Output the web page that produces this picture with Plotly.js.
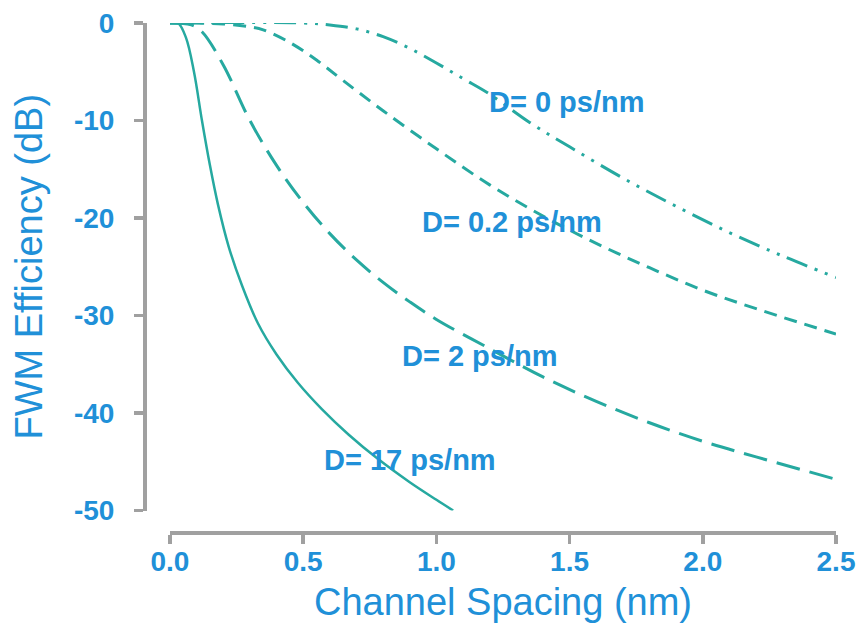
<!DOCTYPE html>
<html>
<head>
<meta charset="utf-8">
<script src="https://cdn.plot.ly/plotly-3.0.1.min.js"></script>
<style>html,body{margin:0;padding:0;background:#fff;}#chart{width:859px;height:625px;}</style>
</head>
<body>
<div id="chart"></div>
<script>
// ---- data ----
const seriesNames = ["D= 17 ps/nm", "D= 2 ps/nm", "D= 0.2 ps/nm", "D= 0 ps/nm"];

const d17_x = [0, 0.03, 0.06, 0.09, 0.12, 0.15, 0.18, 0.22, 0.27, 0.33, 0.40, 0.48, 0.57, 0.67, 0.78, 0.90, 1.0, 1.063];
const d17_y = [0, 0, -1.5, -5.0, -10.0, -14.6, -18.6, -22.9, -26.9, -30.8, -34.0, -36.9, -39.6, -42.2, -44.7, -47.1, -48.9, -50.0];

const d2_x = [0, 0.08, 0.12, 0.2, 0.3, 0.4, 0.5, 0.6, 0.7, 0.8, 0.9, 1.0, 1.2, 1.4, 1.6, 1.8, 2.0, 2.2, 2.5];
const d2_y = [0, -0.2, -0.9, -4.3, -10.0, -14.6, -18.4, -21.6, -24.3, -26.6, -28.6, -30.4, -33.4, -36.3, -38.8, -41.0, -42.9, -44.5, -46.8];

const d02_x = [0, 0.2, 0.3, 0.35, 0.45, 0.55, 0.65, 0.8, 1.0, 1.2, 1.4, 1.6, 1.8, 2.0, 2.2, 2.5];
const d02_y = [0, -0.1, -0.4, -0.7, -2.0, -3.8, -5.9, -9.0, -12.9, -16.6, -19.8, -22.6, -25.1, -27.4, -29.3, -31.9];

const d0_x = [0, 0.5, 0.6, 0.7, 0.8, 0.9, 1.0, 1.1, 1.2, 1.35, 1.5, 1.7, 1.9, 2.1, 2.3, 2.5];
const d0_y = [0, 0, -0.2, -0.6, -1.4, -2.6, -4.1, -5.7, -7.3, -10.2, -12.7, -15.9, -18.8, -21.5, -23.9, -26.1];

const xTickVals = [0, 0.5, 1.0, 1.5, 2.0, 2.5];
const xTickText = ["0.0", "0.5", "1.0", "1.5", "2.0", "2.5"];
const yTickVals = [0, -10, -20, -30, -40, -50];
const yTickText = ["0", "-10", "-20", "-30", "-40", "-50"];

const labelX = [0.902, 1.165, 1.285, 1.491];
const labelY = [-44.8, -34.2, -20.4, -8.1];

// ---- styling ----
const lineColor = "#26A9A0";
const textColor = "#2090D8";
const axisGray = "#A0A0A0";
const font = "Liberation Sans, Arial, sans-serif";

const traces = [
  {x: d17_x, y: d17_y, name: seriesNames[0], mode: "lines", line: {color: lineColor, width: 2.5, shape: "spline", smoothing: 1}},
  {x: d2_x, y: d2_y, name: seriesNames[1], mode: "lines", line: {color: lineColor, width: 3, dash: "24px,10px", shape: "spline", smoothing: 1}},
  {x: d02_x, y: d02_y, name: seriesNames[2], mode: "lines", line: {color: lineColor, width: 3, dash: "13px,8px", shape: "spline", smoothing: 1}},
  {x: d0_x, y: d0_y, name: seriesNames[3], mode: "lines", line: {color: lineColor, width: 3, dash: "22px,8px,3px,8px,3px,8px", shape: "spline", smoothing: 1}}
];

const L = 143.5, R = 836, T = 23, B = 532.5;
const W = 859, H = 625;

const annotations = seriesNames.map((s, i) => ({
  x: labelX[i], y: labelY[i], xref: "x", yref: "y", text: s, showarrow: false,
  font: {family: font, size: 29, color: textColor, weight: "bold"}
}));

const layout = {
  width: W, height: H,
  margin: {l: L, r: W - R, t: T, b: H - B, pad: 0},
  paper_bgcolor: "#ffffff", plot_bgcolor: "#ffffff",
  showlegend: false,
  font: {family: font, color: textColor},
  xaxis: {
    domain: [(169.5 - L) / (R - L), 1], range: [0, 2.5], anchor: "free", position: 0,
    tickvals: xTickVals, ticktext: xTickText,
    showline: true, linecolor: axisGray, linewidth: 3.5,
    ticks: "outside", ticklen: 9, tickwidth: 3.5, tickcolor: axisGray,
    ticklabelstandoff: -6,
    showgrid: false, zeroline: false,
    tickfont: {family: font, size: 28, color: textColor, weight: "bold"},
    title: {text: "Channel Spacing (nm)", font: {family: font, size: 38, color: textColor}, standoff: 12},
    automargin: false
  },
  yaxis: {
    domain: [(B - 511) / (B - T), 1], range: [-50, 0], anchor: "free", position: 0,
    tickvals: yTickVals, ticktext: yTickText,
    showline: true, linecolor: axisGray, linewidth: 3.5,
    ticks: "outside", ticklen: 9, tickwidth: 3.5, tickcolor: axisGray,
    ticklabelstandoff: 14,
    showgrid: false, zeroline: false,
    tickfont: {family: font, size: 28, color: textColor, weight: "bold"},
    title: {text: "FWM Efficiency (dB)", font: {family: font, size: 38, color: textColor}, standoff: 18},
    automargin: false
  },
  annotations: annotations
};

Plotly.newPlot("chart", traces, layout, {displayModeBar: false, staticPlot: true});
</script>
</body>
</html>
